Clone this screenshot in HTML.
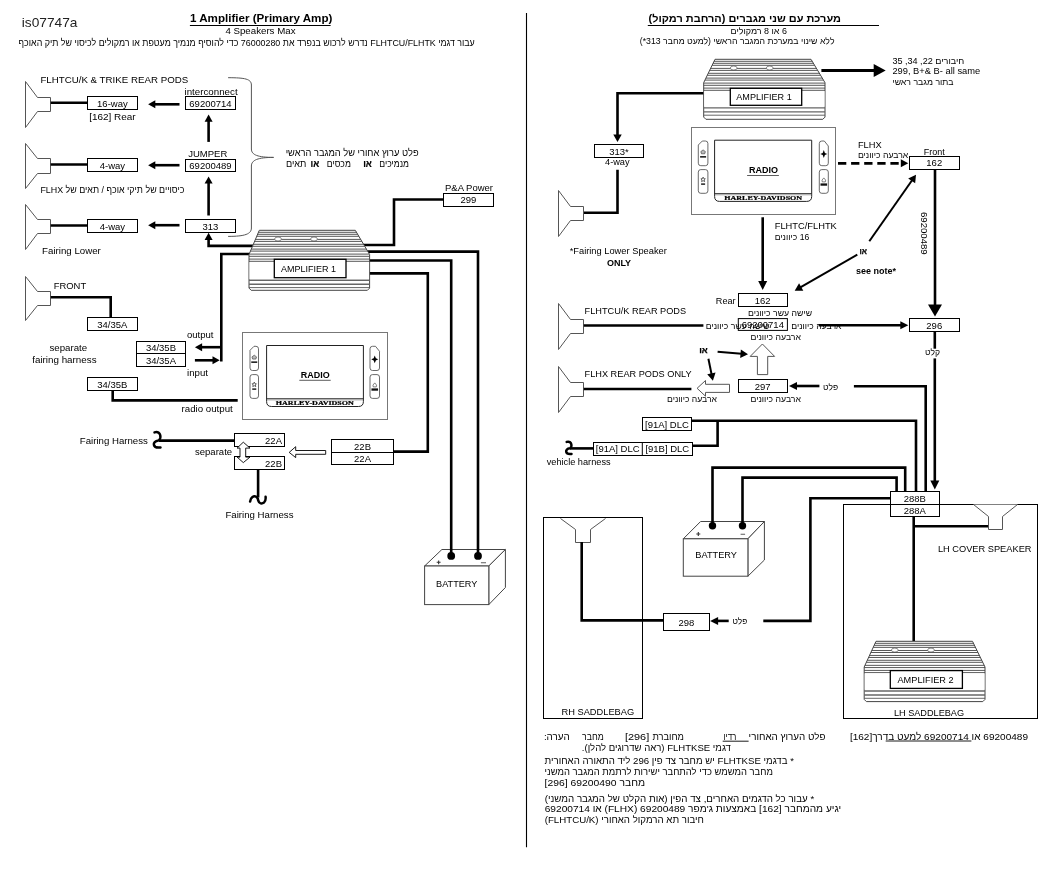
<!DOCTYPE html><html><head><meta charset="utf-8"><style>html,body{margin:0;padding:0;background:#fff;width:1050px;height:890px;overflow:hidden}svg{display:block;font-family:"Liberation Sans",sans-serif;will-change:transform}</style></head><body>
<svg width="1050" height="890" viewBox="0 0 1050 890">
<text x="21.8" y="27.2" font-size="13.65" textLength="55.70" lengthAdjust="spacingAndGlyphs" fill="#222" >is07747a</text>
<text x="189.9" y="21.5" font-size="11.03" font-weight="bold" textLength="142.50" lengthAdjust="spacingAndGlyphs" fill="#000" >1 Amplifier (Primary Amp)</text>
<line x1="189.9" y1="25.5" x2="330.6" y2="25.5" stroke="#000" stroke-width="1.1"/>
<text x="225.4" y="34.4" font-size="9.45" textLength="70.10" lengthAdjust="spacingAndGlyphs" fill="#000" >4 Speakers Max</text>
<text x="18.6" y="45.8" font-size="9.27" direction="rtl" text-anchor="end" textLength="456.20" lengthAdjust="spacingAndGlyphs" fill="#000" >עבור דגמי FLHTCU/FLHTK נדרש לרכוש בנפרד את 76000280 כדי להוסיף מנמיך מעטפת או רמקולים לכיסוי של תיק האוכף</text>
<text x="40.4" y="82.5" font-size="9.97" textLength="147.80" lengthAdjust="spacingAndGlyphs" fill="#000" >FLHTCU/K &amp; TRIKE REAR PODS</text>
<polygon points="25.5,81.5 37.5,97.5 50.5,97.5 50.5,111.5 37.5,111.5 25.5,127.5" fill="#fff" stroke="#555" stroke-width="1"/>
<polyline points="50.7,102.8 87.2,102.8" fill="none" stroke="#000" stroke-width="2.6" stroke-linejoin="miter" stroke-linecap="butt"/>
<rect x="87.5" y="96.5" width="50.00" height="13.00" fill="#fff" stroke="#000" stroke-width="1"/>
<text x="97.09" y="106.55" font-size="9.97" textLength="30.62" lengthAdjust="spacingAndGlyphs">16-way</text>
<text x="89.2" y="119.5" font-size="9.97" textLength="46.50" lengthAdjust="spacingAndGlyphs" fill="#000" >[162] Rear</text>
<text x="184.5" y="95.2" font-size="9.97" textLength="53.10" lengthAdjust="spacingAndGlyphs" fill="#000" >interconnect</text>
<rect x="185.5" y="96.5" width="50.00" height="13.00" fill="#fff" stroke="#000" stroke-width="1"/>
<text x="189.32" y="106.70" font-size="9.97" textLength="42.26" lengthAdjust="spacingAndGlyphs">69200714</text>
<line x1="179.5" y1="104.3" x2="154.30" y2="104.30" stroke="#000" stroke-width="2.6"/>
<polygon points="148.10,104.30 155.30,100.30 155.30,108.30" fill="#000"/>
<line x1="208.6" y1="141.9" x2="208.60" y2="120.80" stroke="#000" stroke-width="2.6"/>
<polygon points="208.60,114.60 212.60,121.80 204.60,121.80" fill="#000"/>
<polygon points="25.5,143.5 37.5,158.5 50.5,158.5 50.5,173.5 37.5,173.5 25.5,188.5" fill="#fff" stroke="#555" stroke-width="1"/>
<polyline points="50.7,164.5 87.2,164.5" fill="none" stroke="#000" stroke-width="2.6" stroke-linejoin="miter" stroke-linecap="butt"/>
<rect x="87.5" y="158.5" width="50.00" height="13.00" fill="#fff" stroke="#000" stroke-width="1"/>
<text x="99.73" y="168.55" font-size="9.97" textLength="25.34" lengthAdjust="spacingAndGlyphs">4-way</text>
<text x="188.2" y="156.6" font-size="9.97" textLength="39.10" lengthAdjust="spacingAndGlyphs" fill="#000" >JUMPER</text>
<rect x="185.5" y="159.5" width="50.00" height="12.00" fill="#fff" stroke="#000" stroke-width="1"/>
<text x="189.32" y="169.00" font-size="9.97" textLength="42.26" lengthAdjust="spacingAndGlyphs">69200489</text>
<line x1="179.5" y1="165.2" x2="154.30" y2="165.20" stroke="#000" stroke-width="2.6"/>
<polygon points="148.10,165.20 155.30,161.20 155.30,169.20" fill="#000"/>
<line x1="208.6" y1="215.5" x2="208.60" y2="182.60" stroke="#000" stroke-width="2.6"/>
<polygon points="208.60,176.40 212.60,183.60 204.60,183.60" fill="#000"/>
<text x="40.4" y="192.5" font-size="9.50" direction="rtl" text-anchor="end" textLength="144.10" lengthAdjust="spacingAndGlyphs" fill="#000" >כיסויים של תיקי אוכף / תאים של FLHX</text>
<polygon points="25.5,204.5 37.5,219.5 50.5,219.5 50.5,233.5 37.5,233.5 25.5,249.5" fill="#fff" stroke="#555" stroke-width="1"/>
<polyline points="50.7,225.5 87.2,225.5" fill="none" stroke="#000" stroke-width="2.6" stroke-linejoin="miter" stroke-linecap="butt"/>
<rect x="87.5" y="219.5" width="50.00" height="13.00" fill="#fff" stroke="#000" stroke-width="1"/>
<text x="99.73" y="229.60" font-size="9.97" textLength="25.34" lengthAdjust="spacingAndGlyphs">4-way</text>
<rect x="185.5" y="219.5" width="50.00" height="13.00" fill="#fff" stroke="#000" stroke-width="1"/>
<text x="202.53" y="229.60" font-size="9.97" textLength="15.85" lengthAdjust="spacingAndGlyphs">313</text>
<line x1="179.5" y1="225.2" x2="154.30" y2="225.20" stroke="#000" stroke-width="2.6"/>
<polygon points="148.10,225.20 155.30,221.20 155.30,229.20" fill="#000"/>
<text x="42.1" y="254.3" font-size="9.97" textLength="58.70" lengthAdjust="spacingAndGlyphs" fill="#000" >Fairing Lower</text>
<path d="M228.1,77.7 C245,77.7 251.4,79 251.4,85 L251.4,149 C251.4,155 258,157.4 273.6,157.4 C258,157.4 251.4,160 251.4,166 L251.4,228 C251.4,234 245,236.4 228.1,236.4" fill="none" stroke="#555" stroke-width="1"/>
<text x="285.7" y="155.7" font-size="10.35" direction="rtl" text-anchor="end" textLength="132.90" lengthAdjust="spacingAndGlyphs" fill="#000" >פלט ערוץ אחורי של המגבר הראשי</text>
<text x="379.3" y="167.4" font-size="10.35" direction="rtl" text-anchor="end" textLength="29.70" lengthAdjust="spacingAndGlyphs" fill="#000" >מנמיכים</text>
<text x="363.2" y="167.4" font-size="10.35" font-weight="bold" direction="rtl" text-anchor="end" textLength="8.70" lengthAdjust="spacingAndGlyphs" fill="#000" stroke="#000" stroke-width="0.2">או</text>
<text x="326.7" y="167.4" font-size="10.35" direction="rtl" text-anchor="end" textLength="24.20" lengthAdjust="spacingAndGlyphs" fill="#000" >מכסים</text>
<text x="310.6" y="167.4" font-size="10.35" font-weight="bold" direction="rtl" text-anchor="end" textLength="8.70" lengthAdjust="spacingAndGlyphs" fill="#000" stroke="#000" stroke-width="0.2">או</text>
<text x="285.9" y="167.4" font-size="10.35" direction="rtl" text-anchor="end" textLength="20.40" lengthAdjust="spacingAndGlyphs" fill="#000" >תאים</text>
<text x="445" y="191" font-size="9.97" textLength="48.00" lengthAdjust="spacingAndGlyphs" fill="#000" >P&amp;A Power</text>
<rect x="443.5" y="193.5" width="50.00" height="13.00" fill="#fff" stroke="#000" stroke-width="1"/>
<text x="460.43" y="203.45" font-size="9.97" textLength="15.85" lengthAdjust="spacingAndGlyphs">299</text>
<polygon points="424.6,566 441.9,549.5 505.4,549.5 488.8,566" fill="#fff" stroke="#444" stroke-width="1"/>
<polygon points="488.8,566 505.4,549.5 505.4,587.5 488.8,604.6" fill="#fff" stroke="#444" stroke-width="1"/>
<rect x="424.6" y="566" width="64.19999999999999" height="38.60000000000002" fill="#fff" stroke="#444" stroke-width="1"/>
<polyline points="443.2,199.5 394,199.5 394,245 360,245" fill="none" stroke="#000" stroke-width="2.6" stroke-linejoin="miter" stroke-linecap="butt"/>
<polyline points="260,245.9 208.6,245.9 208.6,239" fill="none" stroke="#000" stroke-width="2.6" stroke-linejoin="miter" stroke-linecap="butt"/>
<polygon points="208.60,232.80 212.60,240.00 204.60,240.00" fill="#000"/>
<polyline points="255,254 221.3,254 221.3,361.5" fill="none" stroke="#000" stroke-width="2.6" stroke-linejoin="miter" stroke-linecap="butt"/>
<polyline points="360,251.6 478,251.6 478,555.9" fill="none" stroke="#000" stroke-width="2.6" stroke-linejoin="miter" stroke-linecap="butt"/>
<polyline points="360,260.5 451.2,260.5 451.2,555.9" fill="none" stroke="#000" stroke-width="2.6" stroke-linejoin="miter" stroke-linecap="butt"/>
<polyline points="360,273.4 427.8,273.4 427.8,451.6 393.7,451.6" fill="none" stroke="#000" stroke-width="2.6" stroke-linejoin="miter" stroke-linecap="butt"/>
<path d="M259.3,230.3 L355.3,230.3 L369.6,254.5 L369.6,288.1 L367.40000000000003,290.3 L251.2,290.3 L249,288.1 L249,254.5 Z" fill="#fff" stroke="#444" stroke-width="1"/>
<line x1="258.45" y1="232.30" x2="356.48" y2="232.30" stroke="#444" stroke-width="0.9"/>
<line x1="257.60" y1="234.30" x2="357.66" y2="234.30" stroke="#444" stroke-width="0.9"/>
<line x1="256.75" y1="236.30" x2="358.85" y2="236.30" stroke="#444" stroke-width="0.9"/>
<line x1="255.43" y1="239.40" x2="360.68" y2="239.40" stroke="#444" stroke-width="0.9"/>
<line x1="254.58" y1="241.40" x2="361.86" y2="241.40" stroke="#444" stroke-width="0.9"/>
<line x1="253.34" y1="244.30" x2="363.57" y2="244.30" stroke="#444" stroke-width="0.9"/>
<line x1="252.49" y1="246.30" x2="364.75" y2="246.30" stroke="#444" stroke-width="0.9"/>
<line x1="251.30" y1="249.10" x2="366.41" y2="249.10" stroke="#444" stroke-width="0.9"/>
<line x1="250.45" y1="251.10" x2="367.59" y2="251.10" stroke="#444" stroke-width="0.9"/>
<line x1="249.17" y1="254.10" x2="369.36" y2="254.10" stroke="#444" stroke-width="0.9"/>
<line x1="249.00" y1="256.30" x2="369.60" y2="256.30" stroke="#444" stroke-width="0.9"/>
<line x1="249.00" y1="259.10" x2="369.60" y2="259.10" stroke="#444" stroke-width="0.9"/>
<line x1="249.00" y1="261.30" x2="369.60" y2="261.30" stroke="#444" stroke-width="0.9"/>
<line x1="249" y1="280.30" x2="369.6" y2="280.30" stroke="#666" stroke-width="1.4"/>
<line x1="249" y1="284.30" x2="369.6" y2="284.30" stroke="#666" stroke-width="1.4"/>
<line x1="249" y1="287.60" x2="369.6" y2="287.60" stroke="#555" stroke-width="0.9"/>
<ellipse cx="278.02" cy="239.00" rx="3.4" ry="2" fill="#fff" stroke="#555" stroke-width="0.7"/>
<ellipse cx="314.02" cy="239.00" rx="3.4" ry="2" fill="#fff" stroke="#555" stroke-width="0.7"/>
<rect x="249.5" y="262.10" width="119.60" height="17.00" fill="#fff"/>
<rect x="274.3" y="259.3" width="71.70" height="18.40" fill="#fff" stroke="#000" stroke-width="1.3"/>
<text x="281.1" y="271.9" font-size="9.87" textLength="54.90" lengthAdjust="spacingAndGlyphs" fill="#000" >AMPLIFIER 1</text>
<polygon points="25.5,276.5 37.5,291.5 50.5,291.5 50.5,305.5 37.5,305.5 25.5,320.5" fill="#fff" stroke="#555" stroke-width="1"/>
<text x="53.7" y="289.1" font-size="9.97" textLength="32.50" lengthAdjust="spacingAndGlyphs" fill="#000" >FRONT</text>
<polyline points="50.8,297.2 110.7,297.2 110.7,317.5" fill="none" stroke="#000" stroke-width="2.6" stroke-linejoin="miter" stroke-linecap="butt"/>
<rect x="87.5" y="317.5" width="50.00" height="13.00" fill="#fff" stroke="#000" stroke-width="1"/>
<text x="97.25" y="327.75" font-size="9.97" textLength="30.11" lengthAdjust="spacingAndGlyphs">34/35A</text>
<text x="49.5" y="351.3" font-size="9.97" textLength="37.70" lengthAdjust="spacingAndGlyphs" fill="#000" >separate</text>
<text x="32.2" y="363.4" font-size="9.97" textLength="64.40" lengthAdjust="spacingAndGlyphs" fill="#000" >fairing harness</text>
<rect x="136.5" y="341.5" width="49.00" height="12.00" fill="#fff" stroke="#000" stroke-width="1"/>
<text x="145.90" y="351.10" font-size="9.97" textLength="30.11" lengthAdjust="spacingAndGlyphs">34/35B</text>
<rect x="136.5" y="353.5" width="49.00" height="13.00" fill="#fff" stroke="#000" stroke-width="1"/>
<text x="145.90" y="363.75" font-size="9.97" textLength="30.11" lengthAdjust="spacingAndGlyphs">34/35A</text>
<text x="187" y="338.1" font-size="9.97" textLength="26.50" lengthAdjust="spacingAndGlyphs" fill="#000" >output</text>
<text x="187" y="375.6" font-size="9.97" textLength="21.00" lengthAdjust="spacingAndGlyphs" fill="#000" >input</text>
<line x1="221.3" y1="347.2" x2="201.10" y2="347.20" stroke="#000" stroke-width="2.6"/>
<polygon points="194.90,347.20 202.10,343.20 202.10,351.20" fill="#000"/>
<line x1="194.9" y1="360.3" x2="213.50" y2="360.30" stroke="#000" stroke-width="2.6"/>
<polygon points="219.70,360.30 212.50,364.30 212.50,356.30" fill="#000"/>
<rect x="87.5" y="377.5" width="50.00" height="13.00" fill="#fff" stroke="#000" stroke-width="1"/>
<text x="97.25" y="387.75" font-size="9.97" textLength="30.11" lengthAdjust="spacingAndGlyphs">34/35B</text>
<polyline points="112.7,390.5 112.7,400.4 237.7,400.4" fill="none" stroke="#000" stroke-width="2.6" stroke-linejoin="miter" stroke-linecap="butt"/>
<text x="181.5" y="411.6" font-size="9.97" textLength="51.30" lengthAdjust="spacingAndGlyphs" fill="#000" >radio output</text>
<rect x="242.5" y="332.5" width="145.00" height="87.00" fill="#fff" stroke="#777" stroke-width="1"/>
<path d="M266.6,345.5 L363.4,345.5 L363.4,401.5 Q363.4,406.5 358.4,406.5 L271.6,406.5 Q266.6,406.5 266.6,401.5 Z" fill="#fff" stroke="#222" stroke-width="1"/>
<line x1="266.6" y1="398.7" x2="363.4" y2="398.7" stroke="#222" stroke-width="0.9"/>
<line x1="266.6" y1="399.90" x2="363.4" y2="399.90" stroke="#666" stroke-width="0.6"/>
<text x="275.8" y="404.90" font-size="5.2" font-weight="bold" font-family="Liberation Serif" textLength="78.1" lengthAdjust="spacingAndGlyphs" stroke="#000" stroke-width="0.2">HARLEY-DAVIDSON</text>
<path d="M254.00,346.30 L256.00,346.30 Q258.50,346.30 258.50,348.80 L258.50,368.00 Q258.50,370.50 256.00,370.50 L252.50,370.50 Q250.00,370.50 250.00,368.00 L250.00,350.30 Z" fill="#fff" stroke="#444" stroke-width="0.8"/>
<path d="M252.50,374.60 L256.00,374.60 Q258.50,374.60 258.50,377.10 L258.50,395.90 Q258.50,398.40 256.00,398.40 L252.50,398.40 Q250.00,398.40 250.00,395.90 L250.00,377.10 Q250.00,374.60 252.50,374.60 Z" fill="#fff" stroke="#444" stroke-width="0.8"/>
<path d="M372.50,346.30 L375.50,346.30 L379.50,351.30 L379.50,368.00 Q379.50,370.50 377.00,370.50 L372.50,370.50 Q370.00,370.50 370.00,368.00 L370.00,348.80 Q370.00,346.30 372.50,346.30 Z" fill="#fff" stroke="#444" stroke-width="0.8"/>
<path d="M372.50,374.60 L377.00,374.60 Q379.50,374.60 379.50,377.10 L379.50,395.90 Q379.50,398.40 377.00,398.40 L372.50,398.40 Q370.00,398.40 370.00,395.90 L370.00,377.10 Q370.00,374.60 372.50,374.60 Z" fill="#fff" stroke="#444" stroke-width="0.8"/>
<polygon points="254.25,355.20 256.55,356.90 255.85,359.10 252.65,359.10 251.95,356.90" fill="#bbb" stroke="#333" stroke-width="0.6"/>
<rect x="251.25" y="361.40" width="6" height="1.5" fill="#111"/>
<polygon points="254.25,382.10 254.95,383.70 256.45,383.80 255.35,384.90 255.75,386.60 254.25,385.70 252.75,386.60 253.15,384.90 252.05,383.80 253.55,383.70" fill="none" stroke="#222" stroke-width="0.7"/>
<rect x="252.25" y="388.40" width="4" height="1.4" fill="#111"/>
<polygon points="374.75,355.40 375.85,358.20 378.25,359.30 375.85,360.40 374.75,363.20 373.65,360.40 371.25,359.30 373.65,358.20" fill="#000"/>
<polygon points="374.75,382.90 376.55,385.10 376.25,386.90 373.25,386.90 372.95,385.10" fill="none" stroke="#333" stroke-width="0.6"/>
<rect x="371.45" y="388.40" width="6.6" height="2.3" fill="#111"/>
<text x="300.8" y="377.9" font-size="9.77" font-weight="bold" textLength="28.90" lengthAdjust="spacingAndGlyphs" fill="#000" >RADIO</text>
<line x1="299.3" y1="380.3" x2="330.7" y2="380.3" stroke="#333" stroke-width="0.8"/>
<text x="79.8" y="444.2" font-size="9.97" textLength="68.10" lengthAdjust="spacingAndGlyphs" fill="#000" >Fairing Harness</text>
<path d="M154.50,432.40 C161.50,430.40 161.50,439.40 158.50,440.40 C151.50,441.40 152.50,448.40 160.50,447.40" fill="none" stroke="#000" stroke-width="2.5" stroke-linecap="round"/>
<polyline points="159,440.6 234.6,440.6" fill="none" stroke="#000" stroke-width="2.6" stroke-linejoin="miter" stroke-linecap="butt"/>
<rect x="234.5" y="433.5" width="50.00" height="13.00" fill="#fff" stroke="#000" stroke-width="1"/>
<text x="265.10" y="443.65" font-size="9.97" textLength="16.90" lengthAdjust="spacingAndGlyphs">22A</text>
<rect x="234.5" y="456.5" width="50.00" height="13.00" fill="#fff" stroke="#000" stroke-width="1"/>
<text x="265.10" y="466.55" font-size="9.97" textLength="16.90" lengthAdjust="spacingAndGlyphs">22B</text>
<text x="195" y="455.2" font-size="9.97" textLength="37.10" lengthAdjust="spacingAndGlyphs" fill="#000" >separate</text>
<polygon points="243.3,442.2 250,448.1 245.7,448.1 245.7,457.1 250,457.1 243.3,462.6 237.1,457.1 240,457.1 240,448.1 237.1,448.1" fill="#fff" stroke="#000" stroke-width="0.9"/>
<polyline points="258.1,469.4 258.1,497.5" fill="none" stroke="#000" stroke-width="2.6" stroke-linejoin="miter" stroke-linecap="butt"/>
<path d="M250.1,501.6 C250.5,497 254,495.3 256.2,496.8 C258,498 258.2,499.5 258.3,500.8 C259,503.8 262,504 264,502.6 C265.8,501.2 265.8,499 265.6,496.8" fill="none" stroke="#000" stroke-width="2.5" stroke-linecap="round"/>
<text x="225.4" y="517.5" font-size="9.97" textLength="68.10" lengthAdjust="spacingAndGlyphs" fill="#000" >Fairing Harness</text>
<rect x="331.5" y="439.5" width="62.00" height="13.00" fill="#fff" stroke="#000" stroke-width="1"/>
<text x="354.10" y="449.65" font-size="9.97" textLength="16.90" lengthAdjust="spacingAndGlyphs">22B</text>
<rect x="331.5" y="452.5" width="62.00" height="12.00" fill="#fff" stroke="#000" stroke-width="1"/>
<text x="354.10" y="462.30" font-size="9.97" textLength="16.90" lengthAdjust="spacingAndGlyphs">22A</text>
<polygon points="289.2,452.4 295.7,446.7 295.7,450.5 325.7,450.5 325.7,454.3 295.7,454.3 295.7,457.6" fill="#fff" stroke="#000" stroke-width="0.9"/>
<circle cx="451.2" cy="555.9" r="3.9" fill="#000"/><circle cx="478" cy="555.9" r="3.9" fill="#000"/>
<path d="M436.7,562.3 H440.6 M438.65,560.4 V564.3" stroke="#333" stroke-width="1.1"/><line x1="480.9" y1="562.7" x2="486" y2="562.7" stroke="#777" stroke-width="1.2"/>
<text x="436.1" y="587" font-size="9.97" textLength="41.20" lengthAdjust="spacingAndGlyphs" fill="#000" >BATTERY</text>
<line x1="526.5" y1="13" x2="526.5" y2="847.3" stroke="#000" stroke-width="1.1"/>
<text x="648.6" y="21.5" font-size="10.50" font-weight="bold" direction="rtl" text-anchor="end" textLength="192.40" lengthAdjust="spacingAndGlyphs" fill="#000" >מערכת עם שני מגברים (הרחבת רמקול)</text>
<line x1="647.8" y1="25.5" x2="879" y2="25.5" stroke="#000" stroke-width="1.1"/>
<text x="730.5" y="34.4" font-size="9.00" direction="rtl" text-anchor="end" textLength="56.40" lengthAdjust="spacingAndGlyphs" fill="#000" >6 או 8 רמקולים</text>
<text x="639.8" y="44" font-size="9.00" direction="rtl" text-anchor="end" textLength="194.70" lengthAdjust="spacingAndGlyphs" fill="#000" >ללא שינוי במערכת המגבר הראשי (למעט מחבר 313*)</text>
<polyline points="705,93.3 617.5,93.3 617.5,136" fill="none" stroke="#000" stroke-width="2.6" stroke-linejoin="miter" stroke-linecap="butt"/>
<polygon points="617.50,142.10 613.25,134.60 621.75,134.60" fill="#000"/>
<path d="M715,59.3 L811,59.3 L825,82.7 L825,117.1 L822.8,119.3 L705.9000000000001,119.3 L703.7,117.1 L703.7,82.7 Z" fill="#fff" stroke="#444" stroke-width="1"/>
<line x1="714.03" y1="61.30" x2="812.20" y2="61.30" stroke="#444" stroke-width="0.9"/>
<line x1="713.07" y1="63.30" x2="813.39" y2="63.30" stroke="#444" stroke-width="0.9"/>
<line x1="712.10" y1="65.30" x2="814.59" y2="65.30" stroke="#444" stroke-width="0.9"/>
<line x1="710.61" y1="68.40" x2="816.44" y2="68.40" stroke="#444" stroke-width="0.9"/>
<line x1="709.64" y1="70.40" x2="817.64" y2="70.40" stroke="#444" stroke-width="0.9"/>
<line x1="708.24" y1="73.30" x2="819.38" y2="73.30" stroke="#444" stroke-width="0.9"/>
<line x1="707.27" y1="75.30" x2="820.57" y2="75.30" stroke="#444" stroke-width="0.9"/>
<line x1="705.92" y1="78.10" x2="822.25" y2="78.10" stroke="#444" stroke-width="0.9"/>
<line x1="704.96" y1="80.10" x2="823.44" y2="80.10" stroke="#444" stroke-width="0.9"/>
<line x1="703.70" y1="83.10" x2="825.00" y2="83.10" stroke="#444" stroke-width="0.9"/>
<line x1="703.70" y1="85.30" x2="825.00" y2="85.30" stroke="#444" stroke-width="0.9"/>
<line x1="703.70" y1="88.10" x2="825.00" y2="88.10" stroke="#444" stroke-width="0.9"/>
<line x1="703.70" y1="90.30" x2="825.00" y2="90.30" stroke="#444" stroke-width="0.9"/>
<line x1="703.7" y1="107.90" x2="825" y2="107.90" stroke="#666" stroke-width="1.4"/>
<line x1="703.7" y1="111.90" x2="825" y2="111.90" stroke="#666" stroke-width="1.4"/>
<line x1="703.7" y1="115.20" x2="825" y2="115.20" stroke="#555" stroke-width="0.9"/>
<ellipse cx="733.72" cy="68.00" rx="3.4" ry="2" fill="#fff" stroke="#555" stroke-width="0.7"/>
<ellipse cx="769.72" cy="68.00" rx="3.4" ry="2" fill="#fff" stroke="#555" stroke-width="0.7"/>
<rect x="704.2" y="91.10" width="120.30" height="15.60" fill="#fff"/>
<rect x="730.3" y="88.3" width="71.40" height="17.00" fill="#fff" stroke="#000" stroke-width="1.3"/>
<text x="736.3" y="100.2" font-size="9.87" textLength="55.40" lengthAdjust="spacingAndGlyphs" fill="#000" >AMPLIFIER 1</text>
<line x1="821.4" y1="70.5" x2="874.70" y2="70.50" stroke="#000" stroke-width="3"/>
<polygon points="885.70,70.50 873.70,77.00 873.70,64.00" fill="#000"/>
<text x="892.4" y="63.8" font-size="9.00" direction="rtl" text-anchor="end" textLength="71.90" lengthAdjust="spacingAndGlyphs" fill="#000" >חיבורים 22, 34, 35</text>
<text x="892.4" y="73.9" font-size="9.45" textLength="87.80" lengthAdjust="spacingAndGlyphs" fill="#000" >299, B+&amp; B- all same</text>
<text x="892.4" y="85.3" font-size="9.00" direction="rtl" text-anchor="end" textLength="61.20" lengthAdjust="spacingAndGlyphs" fill="#000" >בתור מגבר ראשי</text>
<rect x="594.5" y="144.5" width="49.00" height="13.00" fill="#fff" stroke="#000" stroke-width="1"/>
<text x="609.23" y="154.75" font-size="9.97" textLength="19.55" lengthAdjust="spacingAndGlyphs">313*</text>
<text x="605" y="165.3" font-size="9.97" textLength="24.60" lengthAdjust="spacingAndGlyphs" fill="#000" >4-way</text>
<polyline points="617.5,169.8 617.5,212.7 583.8,212.7" fill="none" stroke="#000" stroke-width="2.6" stroke-linejoin="miter" stroke-linecap="butt"/>
<polygon points="558.5,190.5 570.5,206.5 583.5,206.5 583.5,220.5 570.5,220.5 558.5,236.5" fill="#fff" stroke="#555" stroke-width="1"/>
<text x="569.7" y="254" font-size="9.97" textLength="97.10" lengthAdjust="spacingAndGlyphs" fill="#000" >*Fairing Lower Speaker</text>
<text x="606.9" y="266.2" font-size="9.97" font-weight="bold" textLength="24.20" lengthAdjust="spacingAndGlyphs" fill="#000" >ONLY</text>
<rect x="691.5" y="127.5" width="144.00" height="87.00" fill="#fff" stroke="#777" stroke-width="1"/>
<path d="M714.6,140.2 L811.7,140.2 L811.7,196.4 Q811.7,201.4 806.7,201.4 L719.6,201.4 Q714.6,201.4 714.6,196.4 Z" fill="#fff" stroke="#222" stroke-width="1"/>
<line x1="714.6" y1="193.6" x2="811.7" y2="193.6" stroke="#222" stroke-width="0.9"/>
<line x1="714.6" y1="194.80" x2="811.7" y2="194.80" stroke="#666" stroke-width="0.6"/>
<text x="724.3" y="199.80" font-size="5.2" font-weight="bold" font-family="Liberation Serif" textLength="77.8" lengthAdjust="spacingAndGlyphs" stroke="#000" stroke-width="0.2">HARLEY-DAVIDSON</text>
<path d="M702.30,141.00 L705.40,141.00 Q707.90,141.00 707.90,143.50 L707.90,163.20 Q707.90,165.70 705.40,165.70 L700.80,165.70 Q698.30,165.70 698.30,163.20 L698.30,145.00 Z" fill="#fff" stroke="#444" stroke-width="0.8"/>
<path d="M700.80,169.60 L705.40,169.60 Q707.90,169.60 707.90,172.10 L707.90,190.80 Q707.90,193.30 705.40,193.30 L700.80,193.30 Q698.30,193.30 698.30,190.80 L698.30,172.10 Q698.30,169.60 700.80,169.60 Z" fill="#fff" stroke="#444" stroke-width="0.8"/>
<path d="M821.80,141.00 L824.30,141.00 L828.30,146.00 L828.30,163.20 Q828.30,165.70 825.80,165.70 L821.80,165.70 Q819.30,165.70 819.30,163.20 L819.30,143.50 Q819.30,141.00 821.80,141.00 Z" fill="#fff" stroke="#444" stroke-width="0.8"/>
<path d="M821.80,169.60 L825.80,169.60 Q828.30,169.60 828.30,172.10 L828.30,190.80 Q828.30,193.30 825.80,193.30 L821.80,193.30 Q819.30,193.30 819.30,190.80 L819.30,172.10 Q819.30,169.60 821.80,169.60 Z" fill="#fff" stroke="#444" stroke-width="0.8"/>
<polygon points="703.10,149.90 705.40,151.60 704.70,153.80 701.50,153.80 700.80,151.60" fill="#bbb" stroke="#333" stroke-width="0.6"/>
<rect x="700.10" y="156.10" width="6" height="1.5" fill="#111"/>
<polygon points="703.10,177.10 703.80,178.70 705.30,178.80 704.20,179.90 704.60,181.60 703.10,180.70 701.60,181.60 702.00,179.90 700.90,178.80 702.40,178.70" fill="none" stroke="#222" stroke-width="0.7"/>
<rect x="701.10" y="183.40" width="4" height="1.4" fill="#111"/>
<polygon points="823.80,150.10 824.90,152.90 827.30,154.00 824.90,155.10 823.80,157.90 822.70,155.10 820.30,154.00 822.70,152.90" fill="#000"/>
<polygon points="823.80,177.90 825.60,180.10 825.30,181.90 822.30,181.90 822.00,180.10" fill="none" stroke="#333" stroke-width="0.6"/>
<rect x="820.50" y="183.40" width="6.6" height="2.3" fill="#111"/>
<text x="748.9" y="173.1" font-size="9.77" font-weight="bold" textLength="29.00" lengthAdjust="spacingAndGlyphs" fill="#000" >RADIO</text>
<line x1="747.1" y1="175.5" x2="778.9" y2="175.5" stroke="#333" stroke-width="0.8"/>
<line x1="838" y1="163.3" x2="902" y2="163.3" stroke="#000" stroke-width="2.8" stroke-dasharray="8.3,4.8"/>
<polygon points="908.30,163.30 900.80,167.30 900.80,159.30" fill="#000"/>
<text x="857.9" y="148.3" font-size="9.97" textLength="23.80" lengthAdjust="spacingAndGlyphs" fill="#000" >FLHX</text>
<text x="857.9" y="157.5" font-size="9.00" direction="rtl" text-anchor="end" textLength="50.40" lengthAdjust="spacingAndGlyphs" fill="#000" >ארבעה כיוונים</text>
<text x="923.8" y="155.3" font-size="9.97" textLength="21.00" lengthAdjust="spacingAndGlyphs" fill="#000" >Front</text>
<polyline points="935,169.3 935,305" fill="none" stroke="#000" stroke-width="2.6" stroke-linejoin="miter" stroke-linecap="butt"/>
<polygon points="935.00,316.60 928.00,304.60 942.00,304.60" fill="#000"/>
<rect x="909.5" y="156.5" width="50.00" height="13.00" fill="#fff" stroke="#000" stroke-width="1"/>
<text x="926.33" y="166.45" font-size="9.97" textLength="15.85" lengthAdjust="spacingAndGlyphs">162</text>
<text x="212" y="0" font-size="9.97" textLength="42.70" lengthAdjust="spacingAndGlyphs" fill="#000" transform="translate(920.5,0) rotate(90)">69200489</text>
<line x1="762.7" y1="217.3" x2="762.70" y2="281.90" stroke="#000" stroke-width="2.6"/>
<polygon points="762.70,289.90 758.20,280.90 767.20,280.90" fill="#000"/>
<text x="774.7" y="229.4" font-size="9.97" textLength="62.10" lengthAdjust="spacingAndGlyphs" fill="#000" >FLHTC/FLHTK</text>
<text x="774.7" y="239.5" font-size="9.00" direction="rtl" text-anchor="end" textLength="34.60" lengthAdjust="spacingAndGlyphs" fill="#000" >16 כיוונים</text>
<line x1="869.3" y1="241.3" x2="912.27" y2="180.02" stroke="#000" stroke-width="2"/>
<polygon points="916.00,174.70 915.17,183.28 908.21,178.40" fill="#000"/>
<line x1="857.3" y1="254.7" x2="800.33" y2="287.46" stroke="#000" stroke-width="2"/>
<polygon points="794.70,290.70 799.08,283.28 803.32,290.65" fill="#000"/>
<text x="859.5" y="253.7" font-size="9.00" font-weight="bold" direction="rtl" text-anchor="end" textLength="7.50" lengthAdjust="spacingAndGlyphs" fill="#000" stroke="#000" stroke-width="0.25">או</text>
<text x="856" y="273.6" font-size="9.45" font-weight="bold" textLength="40.00" lengthAdjust="spacingAndGlyphs" fill="#000" >see note*</text>
<text x="715.8" y="303.5" font-size="9.97" textLength="19.80" lengthAdjust="spacingAndGlyphs" fill="#000" >Rear</text>
<rect x="738.5" y="293.5" width="49.00" height="13.00" fill="#fff" stroke="#000" stroke-width="1"/>
<text x="754.73" y="303.75" font-size="9.97" textLength="15.85" lengthAdjust="spacingAndGlyphs">162</text>
<polygon points="558.5,303.5 570.5,319.5 583.5,319.5 583.5,333.5 570.5,333.5 558.5,349.5" fill="#fff" stroke="#555" stroke-width="1"/>
<text x="584.6" y="313.8" font-size="9.97" textLength="101.50" lengthAdjust="spacingAndGlyphs" fill="#000" >FLHTCU/K REAR PODS</text>
<polyline points="583.8,325.5 703.4,325.5" fill="none" stroke="#000" stroke-width="2.6" stroke-linejoin="miter" stroke-linecap="butt"/>
<line x1="818.6" y1="325.2" x2="901.30" y2="325.20" stroke="#000" stroke-width="2.6"/>
<polygon points="908.30,325.20 900.30,329.20 900.30,321.20" fill="#000"/>
<text x="748" y="315.5" font-size="9.00" direction="rtl" text-anchor="end" textLength="64.00" lengthAdjust="spacingAndGlyphs" fill="#000" >שישה עשר כיוונים</text>
<text x="705.7" y="328.5" font-size="9.00" direction="rtl" text-anchor="end" textLength="64.00" lengthAdjust="spacingAndGlyphs" fill="#000" >שישה עשר כיוונים</text>
<rect x="738.3" y="318.6" width="49.1" height="11.8" fill="none" stroke="#000" stroke-width="1"/>
<text x="762.8" y="327.9" font-size="9.5" text-anchor="middle">69200714</text>
<text x="791.2" y="328.5" font-size="9.00" direction="rtl" text-anchor="end" textLength="50.30" lengthAdjust="spacingAndGlyphs" fill="#000" >ארבעה כיוונים</text>
<text x="750.5" y="339.5" font-size="9.00" direction="rtl" text-anchor="end" textLength="50.40" lengthAdjust="spacingAndGlyphs" fill="#000" >ארבעה כיוונים</text>
<rect x="909.5" y="318.5" width="50.00" height="13.00" fill="#fff" stroke="#000" stroke-width="1"/>
<text x="926.33" y="328.50" font-size="9.97" textLength="15.85" lengthAdjust="spacingAndGlyphs">296</text>
<polyline points="934.8,331.3 934.8,348.7" fill="none" stroke="#000" stroke-width="2.6" stroke-linejoin="miter" stroke-linecap="butt"/>
<text x="924.9" y="355" font-size="9.00" direction="rtl" text-anchor="end" textLength="15.10" lengthAdjust="spacingAndGlyphs" fill="#000" >קלט</text>
<polyline points="934.8,358.4 934.8,482" fill="none" stroke="#000" stroke-width="2.6" stroke-linejoin="miter" stroke-linecap="butt"/>
<polygon points="934.80,489.50 930.30,480.50 939.30,480.50" fill="#000"/>
<polygon points="762.4,344 774.6,356.4 767.7,356.4 767.7,374.6 757.4,374.6 757.4,356.4 750.2,356.4" fill="#fff" stroke="#555" stroke-width="1"/>
<text x="699.2" y="353" font-size="9.00" font-weight="bold" direction="rtl" text-anchor="end" textLength="8.50" lengthAdjust="spacingAndGlyphs" fill="#000" stroke="#000" stroke-width="0.25">או</text>
<line x1="717.6" y1="351.8" x2="741.52" y2="353.77" stroke="#000" stroke-width="2"/>
<polygon points="748.00,354.30 740.18,357.92 740.87,349.45" fill="#000"/>
<line x1="708.4" y1="358.8" x2="711.59" y2="374.33" stroke="#000" stroke-width="2"/>
<polygon points="712.90,380.70 707.23,374.21 715.55,372.50" fill="#000"/>
<polygon points="558.5,366.5 570.5,382.5 583.5,382.5 583.5,396.5 570.5,396.5 558.5,412.5" fill="#fff" stroke="#555" stroke-width="1"/>
<text x="584.6" y="377.3" font-size="9.97" textLength="107.00" lengthAdjust="spacingAndGlyphs" fill="#000" >FLHX REAR PODS ONLY</text>
<polyline points="583.8,389 691.4,389" fill="none" stroke="#000" stroke-width="2.6" stroke-linejoin="miter" stroke-linecap="butt"/>
<polygon points="697.1,388.3 705.5,380.5 705.5,384.3 729.5,384.3 729.5,392.4 705.5,392.4 705.5,396.2" fill="#fff" stroke="#555" stroke-width="1"/>
<text x="667" y="401.5" font-size="9.00" direction="rtl" text-anchor="end" textLength="50.00" lengthAdjust="spacingAndGlyphs" fill="#000" >ארבעה כיוונים</text>
<rect x="738.5" y="379.5" width="49.00" height="13.00" fill="#fff" stroke="#000" stroke-width="1"/>
<text x="754.73" y="389.85" font-size="9.97" textLength="15.85" lengthAdjust="spacingAndGlyphs">297</text>
<text x="750.5" y="401.5" font-size="9.00" direction="rtl" text-anchor="end" textLength="50.40" lengthAdjust="spacingAndGlyphs" fill="#000" >ארבעה כיוונים</text>
<line x1="819.4" y1="386" x2="796.00" y2="386.00" stroke="#000" stroke-width="2.6"/>
<polygon points="789.00,386.00 797.00,382.00 797.00,390.00" fill="#000"/>
<text x="823" y="390" font-size="9.00" direction="rtl" text-anchor="end" textLength="15.20" lengthAdjust="spacingAndGlyphs" fill="#000" >פלט</text>
<polyline points="853.9,386.2 925.7,386.2 925.7,491.6" fill="none" stroke="#000" stroke-width="2.6" stroke-linejoin="miter" stroke-linecap="butt"/>
<rect x="642.5" y="417.5" width="49.00" height="13.00" fill="#fff" stroke="#000" stroke-width="1"/>
<text x="645.04" y="427.70" font-size="9.97" textLength="43.82" lengthAdjust="spacingAndGlyphs">[91A] DLC</text>
<polyline points="691.6,420.7 916,420.7 916,491.6" fill="none" stroke="#000" stroke-width="2.6" stroke-linejoin="miter" stroke-linecap="butt"/>
<polyline points="717.6,420.7 717.6,445.8 692.3,445.8" fill="none" stroke="#000" stroke-width="2.6" stroke-linejoin="miter" stroke-linecap="butt"/>
<rect x="593.5" y="442.5" width="99.00" height="13.00" fill="#fff" stroke="#000" stroke-width="1"/>
<line x1="642.3" y1="442.2" x2="642.3" y2="455.3" stroke="#000" stroke-width="1"/>
<text x="617.7" y="452.2" font-size="9.5" text-anchor="middle">[91A] DLC</text><text x="667.3" y="452.2" font-size="9.5" text-anchor="middle">[91B] DLC</text>
<polyline points="570,448.4 593.2,448.4" fill="none" stroke="#000" stroke-width="2.6" stroke-linejoin="miter" stroke-linecap="butt"/>
<path d="M566.70,441.90 C572.30,440.30 572.30,447.50 569.90,448.30 C564.30,449.10 565.10,454.70 571.50,453.90" fill="none" stroke="#000" stroke-width="2.5" stroke-linecap="round"/>
<text x="546.7" y="464.8" font-size="9.97" textLength="63.90" lengthAdjust="spacingAndGlyphs" fill="#000" >vehicle harness</text>
<polygon points="683.3,538.8 700.6,521.5 764.4,521.5 747.9,538.8" fill="#fff" stroke="#444" stroke-width="1"/>
<polygon points="747.9,538.8 764.4,521.5 764.4,560 747.9,576.2" fill="#fff" stroke="#444" stroke-width="1"/>
<rect x="683.3" y="538.8" width="64.60000000000002" height="37.40000000000009" fill="#fff" stroke="#444" stroke-width="1"/>
<polyline points="712.5,525.8 712.5,467.6 905.2,467.6 905.2,491.6" fill="none" stroke="#000" stroke-width="2.6" stroke-linejoin="miter" stroke-linecap="butt"/>
<polyline points="742.5,525.8 742.5,477.6 896.6,477.6 896.6,491.6" fill="none" stroke="#000" stroke-width="2.6" stroke-linejoin="miter" stroke-linecap="butt"/>
<circle cx="712.5" cy="525.8" r="3.7" fill="#000"/><circle cx="742.5" cy="525.8" r="3.7" fill="#000"/>
<path d="M696.3,534 H700.3 M698.3,532.1 V535.9" stroke="#333" stroke-width="1.1"/><line x1="740.6" y1="534.3" x2="745.1" y2="534.3" stroke="#777" stroke-width="1.2"/>
<text x="695.3" y="558.2" font-size="9.97" textLength="41.60" lengthAdjust="spacingAndGlyphs" fill="#000" >BATTERY</text>
<rect x="543.5" y="517.5" width="99" height="201" fill="none" stroke="#000" stroke-width="1"/>
<polyline points="560.5,518.5 575.5,529.5 575.5,542.5 590.5,542.5 590.5,529.5 605.5,518.5" fill="#fff" stroke="#555" stroke-width="1"/>
<polyline points="581.7,542.1 581.7,620.4 663.1,620.4" fill="none" stroke="#000" stroke-width="2.6" stroke-linejoin="miter" stroke-linecap="butt"/>
<text x="561.5" y="715.3" font-size="9.97" textLength="72.70" lengthAdjust="spacingAndGlyphs" fill="#000" >RH SADDLEBAG</text>
<rect x="663.5" y="613.5" width="46.00" height="17.00" fill="#fff" stroke="#000" stroke-width="1"/>
<text x="678.43" y="625.60" font-size="9.97" textLength="15.85" lengthAdjust="spacingAndGlyphs">298</text>
<line x1="728.7" y1="620.9" x2="717.10" y2="620.90" stroke="#000" stroke-width="2.6"/>
<polygon points="710.10,620.90 718.10,616.90 718.10,624.90" fill="#000"/>
<text x="732.4" y="624" font-size="9.00" direction="rtl" text-anchor="end" textLength="14.90" lengthAdjust="spacingAndGlyphs" fill="#000" >פלט</text>
<polyline points="890.3,498.3 810.4,498.3 810.4,620.9 763.3,620.9" fill="none" stroke="#000" stroke-width="2.6" stroke-linejoin="miter" stroke-linecap="butt"/>
<rect x="843.5" y="504.5" width="194" height="214" fill="none" stroke="#000" stroke-width="1"/>
<polyline points="913.7,516.9 913.7,641.3" fill="none" stroke="#000" stroke-width="2.6" stroke-linejoin="miter" stroke-linecap="butt"/>
<polyline points="913.7,526.2 988.7,526.2" fill="none" stroke="#000" stroke-width="2.6" stroke-linejoin="miter" stroke-linecap="butt"/>
<polyline points="973.5,504.5 988.5,516.5 988.5,529.5 1002.5,529.5 1002.5,516.5 1017.5,504.5" fill="#fff" stroke="#555" stroke-width="1"/>
<text x="937.9" y="551.5" font-size="9.97" textLength="93.60" lengthAdjust="spacingAndGlyphs" fill="#000" >LH COVER SPEAKER</text>
<rect x="890.5" y="491.5" width="49.00" height="13.00" fill="#fff" stroke="#000" stroke-width="1"/>
<text x="903.71" y="501.80" font-size="9.97" textLength="22.19" lengthAdjust="spacingAndGlyphs">288B</text>
<rect x="890.5" y="504.5" width="49.00" height="12.00" fill="#fff" stroke="#000" stroke-width="1"/>
<text x="903.71" y="514.45" font-size="9.97" textLength="22.19" lengthAdjust="spacingAndGlyphs">288A</text>
<path d="M876,641.3 L972.5,641.3 L985,667 L985,699.4 L982.8,701.6 L866.4000000000001,701.6 L864.2,699.4 L864.2,667 Z" fill="#fff" stroke="#444" stroke-width="1"/>
<line x1="875.07" y1="643.32" x2="973.48" y2="643.32" stroke="#444" stroke-width="0.9"/>
<line x1="874.14" y1="645.34" x2="974.47" y2="645.34" stroke="#444" stroke-width="0.9"/>
<line x1="873.22" y1="647.36" x2="975.45" y2="647.36" stroke="#444" stroke-width="0.9"/>
<line x1="871.78" y1="650.49" x2="976.97" y2="650.49" stroke="#444" stroke-width="0.9"/>
<line x1="870.85" y1="652.51" x2="977.95" y2="652.51" stroke="#444" stroke-width="0.9"/>
<line x1="869.51" y1="655.44" x2="979.38" y2="655.44" stroke="#444" stroke-width="0.9"/>
<line x1="868.58" y1="657.47" x2="980.36" y2="657.47" stroke="#444" stroke-width="0.9"/>
<line x1="867.28" y1="660.29" x2="981.74" y2="660.29" stroke="#444" stroke-width="0.9"/>
<line x1="866.35" y1="662.32" x2="982.72" y2="662.32" stroke="#444" stroke-width="0.9"/>
<line x1="864.96" y1="665.35" x2="984.20" y2="665.35" stroke="#444" stroke-width="0.9"/>
<line x1="864.20" y1="667.57" x2="985.00" y2="667.57" stroke="#444" stroke-width="0.9"/>
<line x1="864.20" y1="670.40" x2="985.00" y2="670.40" stroke="#444" stroke-width="0.9"/>
<line x1="864.20" y1="672.62" x2="985.00" y2="672.62" stroke="#444" stroke-width="0.9"/>
<line x1="864.2" y1="691.00" x2="985" y2="691.00" stroke="#666" stroke-width="1.4"/>
<line x1="864.2" y1="695.00" x2="985" y2="695.00" stroke="#666" stroke-width="1.4"/>
<line x1="864.2" y1="698.30" x2="985" y2="698.30" stroke="#555" stroke-width="0.9"/>
<ellipse cx="894.82" cy="650.09" rx="3.4" ry="2" fill="#fff" stroke="#555" stroke-width="0.7"/>
<ellipse cx="931.00" cy="650.09" rx="3.4" ry="2" fill="#fff" stroke="#555" stroke-width="0.7"/>
<rect x="864.7" y="673.42" width="119.80" height="16.38" fill="#fff"/>
<rect x="890.3" y="670.6" width="72.10" height="17.80" fill="#fff" stroke="#000" stroke-width="1.3"/>
<text x="897.5" y="682.9" font-size="9.87" textLength="56.10" lengthAdjust="spacingAndGlyphs" fill="#000" >AMPLIFIER 2</text>
<text x="893.9" y="716.3" font-size="9.97" textLength="70.20" lengthAdjust="spacingAndGlyphs" fill="#000" >LH SADDLEBAG</text>
<text x="849.9" y="740" font-size="9.69" direction="rtl" text-anchor="end" textLength="178.10" lengthAdjust="spacingAndGlyphs" fill="#000" >69200489 או 69200714 למעט בדרך[162]</text>
<line x1="885.7" y1="741" x2="971.4" y2="741" stroke="#000" stroke-width="0.9"/>
<text x="543.9" y="739.9" font-size="9.18" direction="rtl" text-anchor="end" textLength="25.90" lengthAdjust="spacingAndGlyphs" fill="#000" >הערה:</text>
<text x="582" y="739.9" font-size="9.18" direction="rtl" text-anchor="end" textLength="21.80" lengthAdjust="spacingAndGlyphs" fill="#000" >מחבר</text>
<text x="624.9" y="739.9" font-size="9.45" textLength="24.30" lengthAdjust="spacingAndGlyphs" fill="#000" >[296]</text>
<text x="652.4" y="739.9" font-size="9.18" direction="rtl" text-anchor="end" textLength="31.60" lengthAdjust="spacingAndGlyphs" fill="#000" >מחוברת</text>
<text x="723.5" y="739.9" font-size="9.18" direction="rtl" text-anchor="end" textLength="12.90" lengthAdjust="spacingAndGlyphs" fill="#000" >רדיו</text>
<line x1="722.7" y1="741.2" x2="748.6" y2="741.2" stroke="#000" stroke-width="0.9"/>
<text x="748.6" y="739.9" font-size="9.18" direction="rtl" text-anchor="end" textLength="76.90" lengthAdjust="spacingAndGlyphs" fill="#000" >פלט הערוץ האחורי</text>
<text x="581.8" y="751.3" font-size="9.18" direction="rtl" text-anchor="end" textLength="149.00" lengthAdjust="spacingAndGlyphs" fill="#000" >דגמי FLHTKSE (ראה שדרוגים להלן).</text>
<text x="544.6" y="763.9" font-size="9.18" direction="rtl" text-anchor="end" textLength="249.30" lengthAdjust="spacingAndGlyphs" fill="#000" >* בדגמי FLHTKSE יש מחבר צד פין 296 ליד התאורה האחורית</text>
<text x="544.6" y="775.1" font-size="9.18" direction="rtl" text-anchor="end" textLength="228.30" lengthAdjust="spacingAndGlyphs" fill="#000" >מחבר המשמש כדי להתחבר ישירות לרתמת המגבר המשני</text>
<text x="544.6" y="785.9" font-size="9.18" direction="rtl" text-anchor="end" textLength="100.50" lengthAdjust="spacingAndGlyphs" fill="#000" >מחבר 69200490 [296]</text>
<text x="544.7" y="802" font-size="9.18" direction="rtl" text-anchor="end" textLength="269.50" lengthAdjust="spacingAndGlyphs" fill="#000" >* עבור כל הדגמים האחרים, צד הפין (אות הקלט של המגבר המשני)</text>
<text x="544.7" y="812.2" font-size="9.18" direction="rtl" text-anchor="end" textLength="296.50" lengthAdjust="spacingAndGlyphs" fill="#000" >יגיע מהמחבר [162] באמצעות ג'מפר 69200489 (FLHX) או 69200714</text>
<text x="544.7" y="823" font-size="9.18" direction="rtl" text-anchor="end" textLength="159.30" lengthAdjust="spacingAndGlyphs" fill="#000" >חיבור תא הרמקול האחורי (FLHTCU/K)</text>
</svg></body></html>
